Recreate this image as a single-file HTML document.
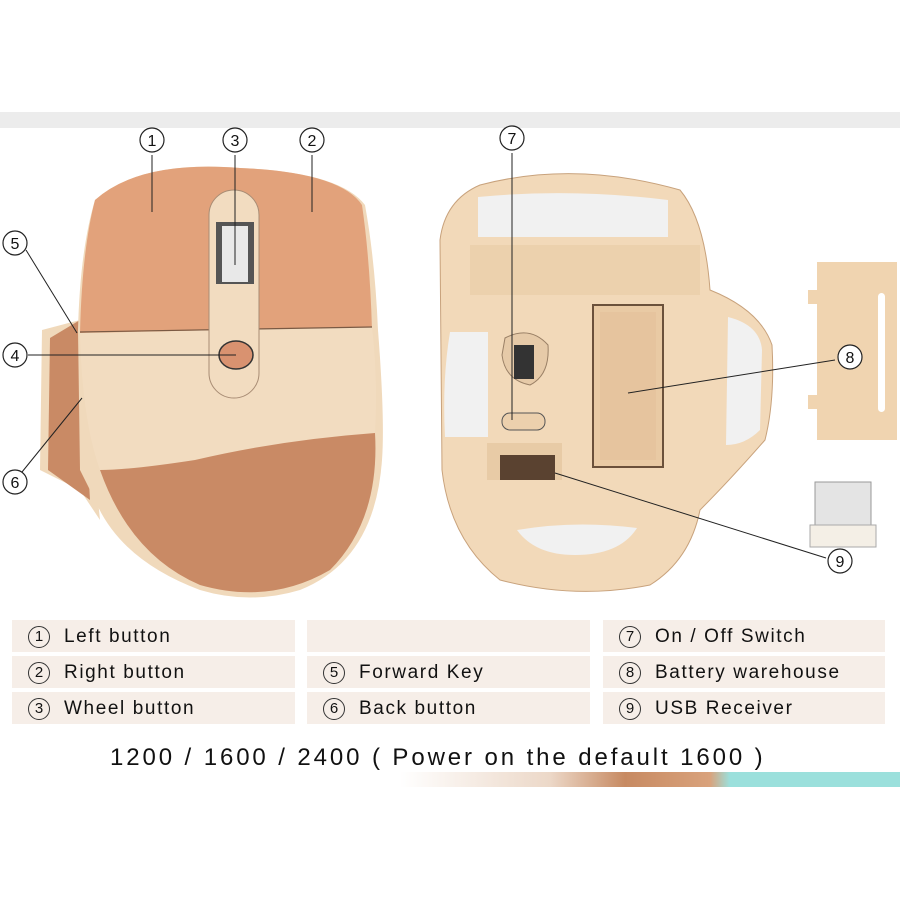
<!DOCTYPE html>
<html><head><meta charset="utf-8"><style>
html,body{margin:0;padding:0;background:#fff;}
body{width:900px;height:900px;overflow:hidden;position:relative;font-family:"Liberation Sans",sans-serif;}
svg{position:absolute;left:0;top:0}
.cell{position:absolute;height:32px;background:#f6eee8;font-size:19px;color:#111;line-height:34px;padding-left:16px;box-sizing:border-box;letter-spacing:1.6px;white-space:nowrap}
.cell span{display:inline-block;width:20px;height:20px;border:1px solid #333;border-radius:50%;font-size:15px;line-height:20px;text-align:center;margin-right:14px;vertical-align:1px;letter-spacing:0}
.foot{position:absolute;left:110px;top:744px;font-size:24px;color:#111;letter-spacing:2.9px;white-space:nowrap}
</style></head><body>
<svg width="900" height="900" viewBox="0 0 900 900">
<defs>
<linearGradient id="strip" x1="0" x2="1"><stop offset="0" stop-color="#fff"/><stop offset="0.3" stop-color="#ecd8c8"/><stop offset="0.45" stop-color="#c78a62"/><stop offset="0.62" stop-color="#d9a27c"/><stop offset="0.66" stop-color="#9be0dc"/><stop offset="1" stop-color="#9be0dc"/></linearGradient>
</defs>
<rect x="0" y="112" width="900" height="16" fill="#ececec"/>
<!-- left mouse -->
<path d="M80 320 L42 330 L40 470 L80 490 L100 520 Z" fill="#f0d9bb"/>
<path d="M80 320 L50 338 L48 470 L90 500 Z" fill="#c98a65"/>
<path d="M95 200 Q140 160 240 168 Q340 172 365 205 Q375 260 378 330 Q385 420 382 460 Q375 560 300 590 Q250 605 200 590 Q120 560 95 500 L80 470 L78 330 Q80 250 95 200 Z" fill="#f0d9bb"/>
<path d="M95 200 Q140 160 240 168 Q340 172 362 205 Q370 260 372 330 L80 333 Q82 250 95 200 Z" fill="#e2a27b"/>
<path d="M80 333 L372 327 Q378 380 375 433 Q280 440 195 460 Q130 470 100 470 Q82 420 80 333 Z" fill="#f2dcc0"/>
<path d="M100 470 Q130 470 195 460 Q280 440 375 433 Q380 520 330 570 Q270 605 200 585 Q130 555 100 470 Z" fill="#c98a65"/>
<line x1="80" y1="332" x2="372" y2="327" stroke="#7a5a44" stroke-width="1.2"/>
<rect x="209" y="190" width="50" height="208" rx="25" fill="#f2dcc0" stroke="#a88c74" stroke-width="1"/>
<rect x="216" y="222" width="38" height="62" fill="#555"/>
<rect x="222" y="226" width="26" height="56" fill="#e8e8e8"/>
<ellipse cx="236" cy="355" rx="17" ry="14" fill="#d99270" stroke="#333" stroke-width="1.5"/>
<!-- right mouse -->
<path d="M480 185 Q575 160 680 190 Q705 220 710 290 Q760 310 772 345 Q775 400 765 440 Q730 480 700 510 Q690 560 650 585 Q575 600 500 580 Q450 540 442 470 L440 240 Q445 200 480 185 Z" fill="#f2d9b9" stroke="#c8a27c" stroke-width="1"/>
<path d="M478 197 Q570 188 668 200 L668 237 L478 237 Z" fill="#f1f1f1"/>
<rect x="470" y="245" width="230" height="50" fill="#ecd1ad"/>
<path d="M450 332 L488 332 L488 437 L445 437 Q442 380 450 332 Z" fill="#f1f1f1"/>
<path d="M728 317 Q760 325 762 350 L760 430 Q745 445 726 445 Z" fill="#f1f1f1"/>
<path d="M517 530 Q575 520 637 528 Q620 555 575 555 Q535 555 517 530 Z" fill="#f1f1f1"/>
<rect x="593" y="305" width="70" height="162" fill="#e9caa4" stroke="#6b513b" stroke-width="2"/>
<rect x="600" y="312" width="56" height="148" fill="#e6c49e"/>
<path d="M505 338 Q530 325 548 345 Q550 375 530 385 Q505 380 502 355 Z" fill="#e6caa8" stroke="#9a8066"/>
<rect x="514" y="345" width="20" height="34" fill="#333"/>
<rect x="502" y="413" width="43" height="17" rx="8" fill="#ecd0ad" stroke="#555"/>
<rect x="487" y="443" width="75" height="37" fill="#e8cba6"/>
<rect x="500" y="455" width="55" height="25" fill="#5a4230"/>
<!-- battery cover -->
<rect x="817" y="262" width="80" height="178" fill="#f0d4b0"/>
<rect x="808" y="290" width="9" height="14" fill="#f0d4b0"/>
<rect x="808" y="395" width="9" height="14" fill="#f0d4b0"/>
<rect x="878" y="293" width="7" height="119" rx="3.5" fill="#fff"/>
<!-- usb -->
<rect x="815" y="482" width="56" height="45" fill="#e4e4e4" stroke="#999"/>
<rect x="810" y="525" width="66" height="22" fill="#f4efe6" stroke="#aaa"/>
<!-- leaders -->
<g stroke="#222" stroke-width="1" fill="none">
<line x1="152" y1="155" x2="152" y2="212"/>
<line x1="235" y1="155" x2="235" y2="265"/>
<line x1="312" y1="155" x2="312" y2="212"/>
<line x1="26" y1="250" x2="77" y2="333"/>
<line x1="28" y1="355" x2="236" y2="355"/>
<line x1="22" y1="472" x2="82" y2="398"/>
<line x1="512" y1="153" x2="512" y2="420"/>
<line x1="628" y1="393" x2="835" y2="360"/>
<line x1="555" y1="473" x2="826" y2="558"/>
</g>
<g fill="#fff" stroke="#222" stroke-width="1.2">
<circle cx="152" cy="140" r="12"/><circle cx="235" cy="140" r="12"/><circle cx="312" cy="140" r="12"/>
<circle cx="15" cy="243" r="12"/><circle cx="15" cy="355" r="12"/><circle cx="15" cy="482" r="12"/>
<circle cx="512" cy="138" r="12"/><circle cx="850" cy="357" r="12"/><circle cx="840" cy="561" r="12"/>
</g>
<g font-family="Liberation Sans, sans-serif" font-size="16" text-anchor="middle" fill="#111">
<text x="152" y="146">1</text><text x="235" y="146">3</text><text x="312" y="146">2</text>
<text x="15" y="249">5</text><text x="15" y="361">4</text><text x="15" y="488">6</text>
<text x="512" y="144">7</text><text x="850" y="363">8</text><text x="840" y="567">9</text>
</g>
<path d="M400 772 L900 772 L900 787 L400 787 Z" fill="url(#strip)"/>
</svg>
<div class="cell" style="left:12px;top:620px;width:283px"><span>1</span>Left button</div>
<div class="cell" style="left:307px;top:620px;width:283px"></div>
<div class="cell" style="left:603px;top:620px;width:282px"><span>7</span>On / Off Switch</div>
<div class="cell" style="left:12px;top:656px;width:283px"><span>2</span>Right button</div>
<div class="cell" style="left:307px;top:656px;width:283px"><span>5</span>Forward Key</div>
<div class="cell" style="left:603px;top:656px;width:282px"><span>8</span>Battery warehouse</div>
<div class="cell" style="left:12px;top:692px;width:283px"><span>3</span>Wheel button</div>
<div class="cell" style="left:307px;top:692px;width:283px"><span>6</span>Back button</div>
<div class="cell" style="left:603px;top:692px;width:282px"><span>9</span>USB Receiver</div>
<div class="foot">1200 / 1600 / 2400 ( Power on the default 1600 )</div>
</body></html>
